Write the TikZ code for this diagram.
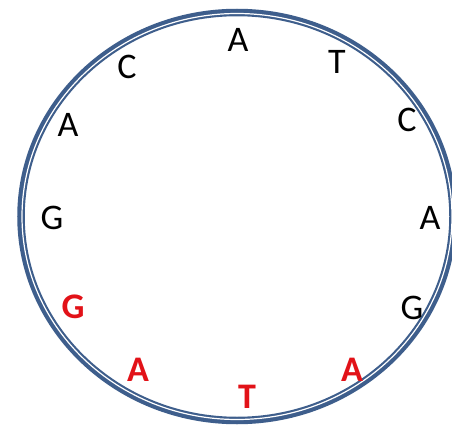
\documentclass[tikz,border=0pt]{standalone}
\usepackage{fontspec}
\setmainfont{Carlito}
\definecolor{ringblue}{RGB}{62,94,140}
\definecolor{basered}{RGB}{226,18,24}
\tikzset{
  base/.style={inner sep=0pt, font=\fontsize{36}{36}\selectfont, text=black},
  hit/.style={inner sep=0pt, font=\fontsize{36}{36}\selectfont\bfseries, text=basered},
}
\begin{document}
\begin{tikzpicture}[x=1pt,y=-1pt]
\useasboundingbox (0,0) rectangle (452,425);
\fill[white] (0,0) rectangle (452,425);
\begin{scope}
\clip (0,0) rectangle (452,425);
\draw[ringblue, line width=7.5pt] (237,216.5) ellipse [x radius=216, y radius=204];
\draw[white, line width=1.2pt] (237,216.5) ellipse [x radius=215, y radius=203];
\end{scope}
\node[base] (a1) at (238,40) {A};
\node[base] (t1) at (337,62) {T};
\node[base] (c1) at (407,120) {C};
\node[base] (a2) at (430,218) {A};
\node[base] (g1) at (412,308) {G};
\node[hit] (a3) at (352,370) {A};
\node[hit] (t2) at (247,397) {T};
\node[hit] (a4) at (138,370) {A};
\node[hit] (g2) at (73,307) {G};
\node[base] (g3) at (52,218) {G};
\node[base] (a5) at (68,125) {A};
\node[base] (c2) at (127,67) {C};
\end{tikzpicture}
\end{document}
